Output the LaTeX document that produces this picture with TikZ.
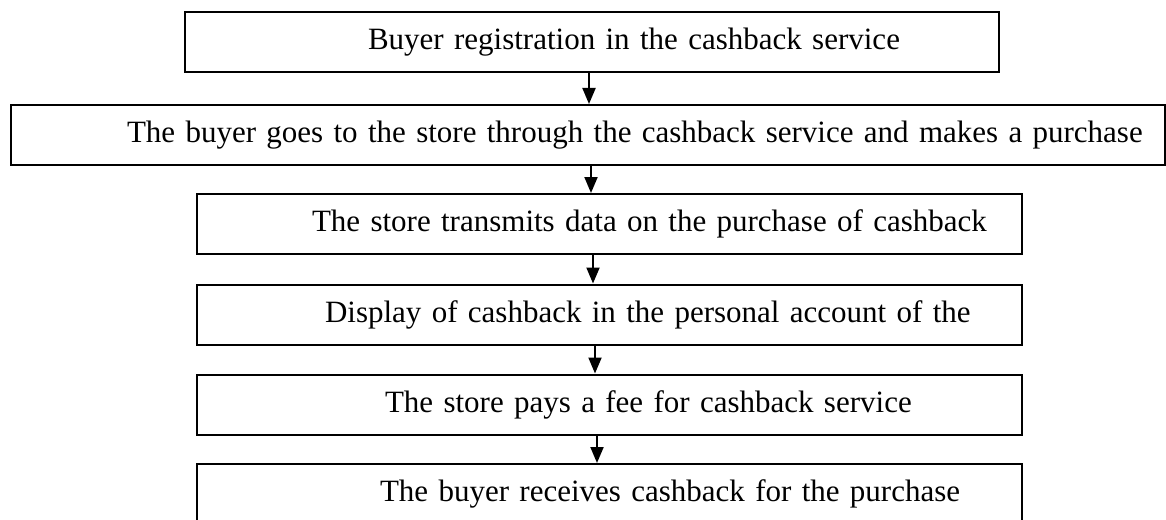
\documentclass[tikz,border=0pt]{standalone}
\usepackage{fontspec}
\setmainfont{Liberation Serif}
\usepackage{tikz}
\usetikzlibrary{arrows.meta}

\tikzset{
  stage/.style={draw, line width=1pt, inner sep=0pt, minimum height=30pt,
    align=left, text height=11pt, text depth=3.5pt,
    font=\fontsize{15.5}{19}\selectfont,
    execute at begin node={\hyphenpenalty 10000\relax}},
  flow/.style={-{Triangle[length=8pt,width=6.5pt]}, line width=1pt}
}

\begin{document}
\begin{tikzpicture}[x=0.5pt,y=-0.5pt]
\clip (0,0) rectangle (1166,519);
% boxes, top to bottom
\node[stage, text width=407pt] (reg) at (592,42.3) {\hspace*{91.5pt}Buyer registration in the cashback service};
\node[stage, text width=577pt] (buy) at (588,135) {\hspace*{58pt}The buyer goes to the store through the cashback service and makes a purchase};
\node[stage, text width=412.5pt] (data) at (609.5,224) {\hspace*{57.5pt}The store transmits data on the purchase of cashback};
\node[stage, text width=412.5pt] (show) at (609.5,314.5) {\hspace*{64pt}Display of cashback in the personal account of the};
\node[stage, text width=412.5pt] (fee) at (609.5,404.5) {\hspace*{94pt}The store pays a fee for cashback service};
\node[stage, text width=412.5pt] (get) at (609.5,494) {\hspace*{91.5pt}The buyer receives cashback for the purchase};
% arrows
\draw[flow] ([xshift=-1.5pt]reg.south) -- ([xshift=-1.5pt]reg.south |- buy.north);
\draw[flow] ([xshift=-9.25pt]data.north |- buy.south) -- ([xshift=-9.25pt]data.north);
\draw[flow] ([xshift=-8.25pt]data.south) -- ([xshift=-8.25pt]data.south |- show.north);
\draw[flow] ([xshift=-7.25pt]show.south) -- ([xshift=-7.25pt]show.south |- fee.north);
\draw[flow] ([xshift=-6.25pt]fee.south) -- ([xshift=-6.25pt]fee.south |- get.north);
\end{tikzpicture}
\end{document}
